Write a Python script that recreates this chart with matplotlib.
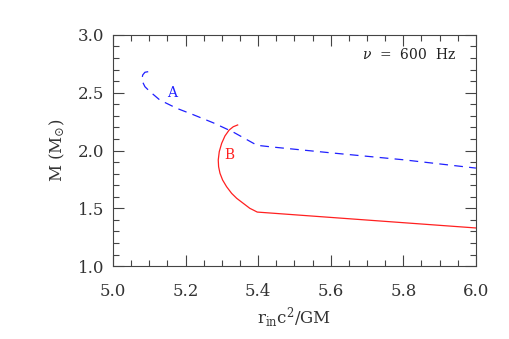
import matplotlib
matplotlib.use('Agg')
import matplotlib.pyplot as plt
from matplotlib.ticker import MultipleLocator, FormatStrFormatter

plt.rcParams['font.family'] = 'DejaVu Serif'
plt.rcParams['mathtext.fontset'] = 'dejavuserif'

# curve A (blue, dashed)
rin_a = [5.097, 5.088, 5.082, 5.079, 5.088, 5.102, 5.129, 5.175, 5.221, 5.276, 5.331,
         5.397, 5.44, 5.60, 5.80, 6.0]
mass_a = [2.682, 2.677, 2.654, 2.61, 2.552, 2.509, 2.437, 2.366, 2.31, 2.24, 2.16,
          2.045, 2.03, 1.98, 1.92, 1.848]

# curve B (red, solid)
rin_b = [5.3435, 5.3315, 5.320, 5.3085, 5.2994, 5.2928, 5.290, 5.291, 5.2948, 5.302,
         5.313, 5.327, 5.341, 5.359, 5.377, 5.3866, 5.3975, 6.0]
mass_b = [2.221, 2.206, 2.177, 2.126, 2.062, 1.990, 1.918, 1.860, 1.803, 1.745,
          1.687, 1.629, 1.586, 1.543, 1.50, 1.485, 1.4675, 1.33]

fig = plt.figure(figsize=(5.09, 3.39), dpi=100)
ax = fig.add_axes([0.222, 0.215, 0.713, 0.682])

ax.plot(rin_a, mass_a, color='#2020ff', lw=0.9, ls=(0, (7, 5)))
ax.plot(rin_b, mass_b, color='#ff2020', lw=0.9)

ax.text(5.163, 2.50, 'A', color='#2020ff', fontsize=10, ha='center', va='center')
ax.text(5.32, 1.96, 'B', color='#ff2020', fontsize=10, ha='center', va='center')
ax.text(5.945, 2.83, r'$\nu$  =  600  Hz', color='#222222', fontsize=10, ha='right', va='center')

ax.set_xlim(5.0, 6.0)
ax.set_ylim(1.0, 3.0)
ax.xaxis.set_major_locator(MultipleLocator(0.2))
ax.xaxis.set_minor_locator(MultipleLocator(0.05))
ax.yaxis.set_major_locator(MultipleLocator(0.5))
ax.yaxis.set_minor_locator(MultipleLocator(0.1))
ax.xaxis.set_major_formatter(FormatStrFormatter('%.1f'))
ax.yaxis.set_major_formatter(FormatStrFormatter('%.1f'))
ax.tick_params(which='both', direction='in', top=True, right=True, colors='#444444',
               labelcolor='#333333', labelsize=12, width=0.8)
ax.tick_params(which='major', length=8)
ax.tick_params(which='minor', length=4)
ax.tick_params(axis='x', which='major', pad=12)
ax.tick_params(axis='y', which='major', pad=6)
for s in ax.spines.values():
    s.set_color('#444444')
    s.set_linewidth(0.8)

ax.set_xlabel(r'r$_{\rm in}$c$^2$/GM', fontsize=12, color='#333333', labelpad=4)
ax.set_ylabel(r'M (M$_{\odot}$)', fontsize=12, color='#333333', labelpad=8)

fig.savefig('out.png', dpi=100)
